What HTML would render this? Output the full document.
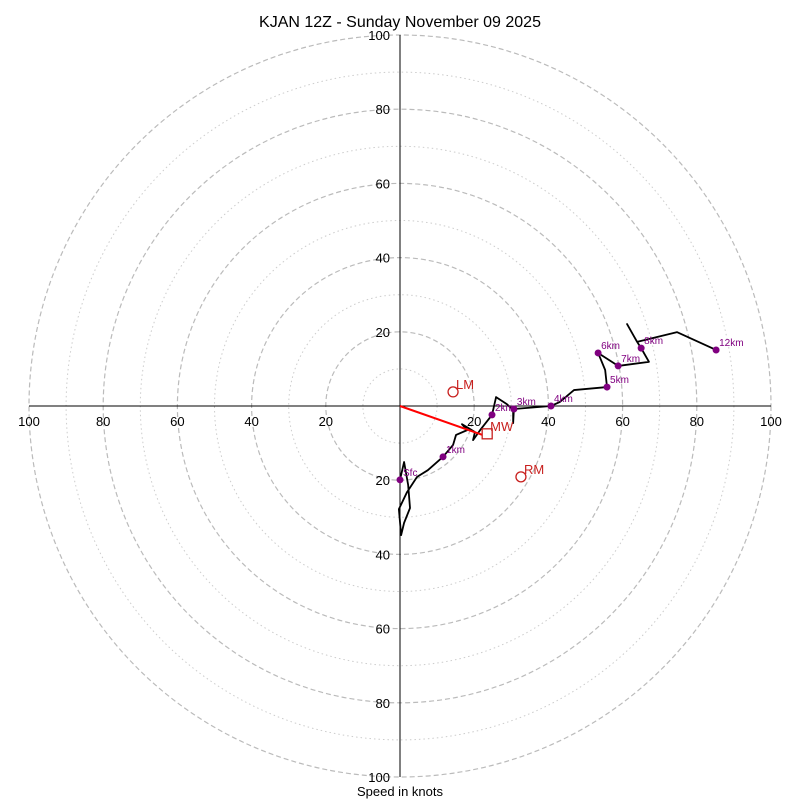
<!DOCTYPE html>
<html><head><meta charset="utf-8"><style>
html,body{margin:0;padding:0;background:#fff;}
svg{display:block;font-family:"Liberation Sans","DejaVu Sans",sans-serif;}
</style></head><body>
<svg id="chart" width="800" height="800" viewBox="0 0 800 800">
<text x="400" y="27" font-size="16" text-anchor="middle">KJAN 12Z - Sunday November 09 2025</text>
<g id="rings"></g>
<g id="axes"></g>
<g id="ticks"></g>
<g id="trace"></g>
<g id="storm"></g>
<text x="400" y="796" font-size="13" text-anchor="middle">Speed in knots</text>
</svg>
<script>
const ringSpeeds=[10,20,30,40,50,60,70,80,90,100];
const tickLabels=[20,40,60,80,100];
const traceU=[0,1.1,2.2,2.7,1.1,0.3,-0.3,1.9,4.6,7.5,11.6,14.3,15.1,18.1,16.7,20.2,19.7,21.6,24.8,25.9,28.8,30.5,30.5,30.7,40.7,43.1,46.9,55.8,55.3,53.4,58.8,67.1,65.0,63.9,61.2,63.9,74.7,85.2];
const traceV=[-19.9,-15.1,-21.3,-27.5,-31.5,-34.8,-27.8,-23.2,-19.1,-17.3,-13.7,-10.5,-7.8,-6.5,-4.9,-7.0,-9.2,-6.5,-2.4,2.4,0.5,-1.1,-4.6,-0.8,0,1.1,4.3,5.1,9.7,14.3,10.8,11.9,15.6,17.3,22.1,17.3,19.9,15.1];
const levelNames=["Sfc","1km","2km","3km","4km","5km","6km","7km","8km","12km"];
const levelU=[0,11.6,24.8,30.7,40.7,55.8,53.4,58.8,65.0,85.2];
const levelV=[-19.9,-13.7,-2.4,-0.8,0,5.1,14.3,10.8,15.6,15.1];
const stormNames=["LM","RM","MW"];
const stormU=[14.3,32.6,23.5];
const stormV=[3.8,-19.1,-7.5];
const CX=400,CY=406,S=3.71;
const X=u=>CX+u*S, Y=v=>CY-v*S, R=s=>s*S;
const NS="http://www.w3.org/2000/svg";
function mk(tag,parent,attrs){const e=document.createElementNS(NS,tag);for(const k in attrs)e.setAttribute(k,attrs[k]);parent.appendChild(e);return e;}
const rings=document.getElementById('rings');
ringSpeeds.forEach(s=>{
  const major=s%20===0;
  const c=mk('circle',rings,{cx:CX,cy:CY,r:R(s),fill:'none',stroke:major?'#bbb':'#ccc','stroke-width':major?1.2:1,'stroke-dasharray':major?'5,3':'1.5,3'});
  
  
});
const axes=document.getElementById('axes');
const ax1=mk('line',axes,{x1:X(-100),y1:CY,x2:X(100),y2:CY,stroke:'#000','stroke-width':1});


const ax2=mk('line',axes,{x1:CX,y1:Y(100),x2:CX,y2:Y(-100),stroke:'#000','stroke-width':1});


const ticks=document.getElementById('ticks');
tickLabels.forEach(t=>{
  [[X(t),CY+20,'middle'],[X(-t),CY+20,'middle'],[CX-10,Y(t)+5,'end'],[CX-10,Y(-t)+5,'end']].forEach(p=>{
    const e=mk('text',ticks,{x:p[0],y:p[1],'font-size':13,'text-anchor':p[2]});e.textContent=t;
    
    
  });
});
const trace=document.getElementById('trace');
const pl=mk('polyline',trace,{points:traceU.map((u,i)=>X(u)+','+Y(traceV[i])).join(' '),fill:'none',stroke:'#000','stroke-width':1.8,'stroke-linejoin':'round'});


levelNames.forEach((n,i)=>{
  const c=mk('circle',trace,{cx:X(levelU[i]),cy:Y(levelV[i]),r:3.5,fill:'#800080'});
  
  
  const t=mk('text',trace,{x:X(levelU[i])+3,y:Y(levelV[i])-4,'font-size':10,fill:'#800080'});t.textContent=n;
  
  
});
const storm=document.getElementById('storm');
const mwx=X(stormU[2])-5,mwy=Y(stormV[2])+1;
const ln=mk('line',storm,{x1:CX,y1:CY,x2:mwx,y2:mwy,stroke:'#ff0000','stroke-width':2});


stormNames.forEach((n,i)=>{
  const x=X(stormU[i]),y=Y(stormV[i]);
  let m;
  if(n==='MW')m=mk('rect',storm,{x:x-5,y:y-5,width:10,height:10,fill:'none',stroke:'#c8201e','stroke-width':1.3});
  else m=mk('circle',storm,{cx:x,cy:y,r:5,fill:'none',stroke:'#c8201e','stroke-width':1.3});
  
  
  const t=mk('text',storm,{x:x+3,y:y-3,'font-size':13,fill:'#c8201e'});t.textContent=n;
  
  
});
</script>
</body></html>
